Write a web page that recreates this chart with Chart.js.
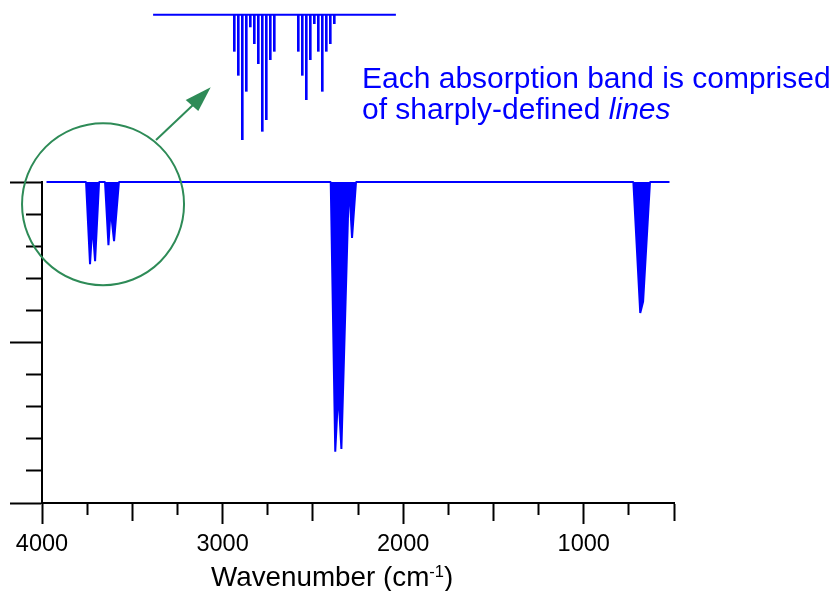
<!DOCTYPE html>
<html><head><meta charset="utf-8">
<script src="https://cdn.jsdelivr.net/npm/chart.js@4.4.1/dist/chart.umd.min.js"></script>
<style>
html,body{margin:0;padding:0;background:#fff;}
#wrap{position:relative;width:830px;height:591px;overflow:hidden;font-family:'Liberation Sans',Arial,sans-serif;}
#main{position:absolute;left:0;top:0;}
#inset{position:absolute;left:150px;top:0;}
.note{position:absolute;left:362px;top:61.6px;font-size:30px;line-height:31px;color:#0000ff;white-space:nowrap;}
.xtitle{position:absolute;left:211px;top:563px;font-size:27.8px;line-height:27px;color:#000;white-space:nowrap;}
.xtitle span{font-size:16.5px;position:relative;top:-9px;}
</style></head><body>
<div id="wrap">
<canvas id="main" width="830" height="591"></canvas>
<canvas id="inset" width="250" height="150"></canvas>
<div class="note">Each absorption band is comprised<br>of sharply-defined <i>lines</i></div>
<div class="xtitle">Wavenumber (cm<span>-1</span>)</div>
</div>
<script>
// ---- main spectrum (wavenumber in cm-1, transmittance 0..1) ----
const wavenumbers   = [3975, 3756, 3734, 3721, 3706, 3684, 3651, 3632, 3620, 3601, 3574, 2401, 2376, 2359, 2342, 2300, 2283, 2261, 725, 687, 671, 633, 525];
const transmittance = [1.0,  1.0,  0.744,0.869,0.753,1.0,  1.0,  0.803,0.916,0.816,1.0,  1.0,  0.160,0.350,0.168,1.0,  0.826,1.0,  1.0, 0.592,0.628,1.0, 1.0];
const xTickLabels = [4000, 3000, 2000, 1000];

// ---- inset: individual rotational lines (relative position, relative depth) ----
const insetLinePositions = [0, 1, 2, 3, 4, 5, 6, 7, 8, 9, 10, 16, 17, 18, 19, 20, 21, 22, 23, 24, 25];
const insetLineDepths    = [0.293, 0.485, 1.0, 0.613, 0.098, 0.232, 0.392, 0.933, 0.84, 0.36, 0.293,
                            0.293, 0.485, 0.68, 0.36, 0.072, 0.293, 0.613, 0.293, 0.232, 0.072];
const insetBaselineX = [-20.3, 40.4];

Chart.defaults.font.family = "'Liberation Sans', Arial, sans-serif";
Chart.defaults.color = '#000';

const BLUE = '#0000ff';
const GREEN = '#2e8b57';

const annotationPlugin = {
  id: 'zoomAnnotation',
  afterDraw(chart) {
    const {ctx, scales} = chart;
    const cx = scales.x.getPixelForValue(3662);
    const cy = scales.y.getPixelForValue(0.931);
    ctx.save();
    ctx.strokeStyle = GREEN;
    ctx.fillStyle = GREEN;
    ctx.lineWidth = 2;
    ctx.beginPath();
    ctx.arc(cx, cy, 81, 0, Math.PI * 2);
    ctx.stroke();
    // arrow
    ctx.beginPath();
    ctx.moveTo(156, 140);
    ctx.lineTo(193, 105);
    ctx.stroke();
    ctx.beginPath();
    ctx.moveTo(210.7, 87.3);
    ctx.lineTo(185.7, 100);
    ctx.lineTo(198.3, 111);
    ctx.closePath();
    ctx.fill();
    ctx.restore();
  }
};

const mainData = wavenumbers.map((w, i) => ({x: w, y: transmittance[i]}));

new Chart(document.getElementById('main'), {
  type: 'line',
  data: {
    datasets: [{
      data: mainData,
      borderColor: BLUE,
      backgroundColor: BLUE,
      borderWidth: 2,
      borderJoinStyle: 'bevel',
      pointRadius: 0,
      tension: 0,
      clip: 6,
      fill: {value: 1}
    }]
  },
  options: {
    responsive: false,
    devicePixelRatio: 1,
    animation: false,
    layout: {padding: {left: 10, top: 182, right: 156, bottom: 26.8}},
    plugins: {legend: {display: false}, tooltip: {enabled: false}},
    scales: {
      x: {
        type: 'linear',
        reverse: true,
        min: 500,
        max: 4000,
        border: {display: true, color: '#000', width: 2},
        grid: {
          drawOnChartArea: false,
          drawTicks: true,
          tickLength: 21,
          tickWidth: 2,
          tickColor: '#000',
          tickBorderDash: (ctx) => {
            const v = ctx.tick ? ctx.tick.value : 0;
            if (v % 1000 === 0) return [];
            if (v % 500 === 0) return [17, 40];
            return [11, 40];
          }
        },
        ticks: {
          stepSize: 250,
          autoSkip: false,
          maxRotation: 0,
          minRotation: 0,
          padding: 6,
          color: '#000',
          font: {size: 23.5},
          callback: (v) => xTickLabels.includes(v) ? String(v) : ''
        }
      },
      y: {
        type: 'linear',
        min: 0,
        max: 1,
        border: {display: true, color: '#000', width: 2},
        grid: {
          drawOnChartArea: false,
          drawTicks: true,
          tickLength: 32,
          tickWidth: 2,
          tickColor: '#000',
          tickBorderDash: (ctx) => {
            const v = ctx.tick ? ctx.tick.value : 0;
            const major = Math.abs(v * 2 - Math.round(v * 2)) < 1e-6;
            return major ? [] : [16, 40];
          },
          tickBorderDashOffset: (ctx) => {
            const v = ctx.tick ? ctx.tick.value : 0;
            const major = Math.abs(v * 2 - Math.round(v * 2)) < 1e-6;
            return major ? 0 : 40;
          }
        },
        ticks: {stepSize: 0.1, display: false}
      }
    }
  },
  plugins: [annotationPlugin]
});

new Chart(document.getElementById('inset'), {
  type: 'bar',
  data: {
    datasets: [
      {
        type: 'line',
        data: insetBaselineX.map(x => ({x, y: 0})),
        borderColor: BLUE,
        borderWidth: 2,
        pointRadius: 0,
        fill: false
      },
      {
        type: 'bar',
        data: insetLinePositions.map((p, i) => ({x: p, y: -insetLineDepths[i]})),
        backgroundColor: BLUE,
        borderWidth: 0,
        barThickness: 2
      }
    ]
  },
  options: {
    responsive: false,
    devicePixelRatio: 1,
    animation: false,
    layout: {padding: 0},
    plugins: {legend: {display: false}, tooltip: {enabled: false}},
    scales: {
      x: {type: 'linear', display: false, offset: false, min: -21.075, max: 41.425},
      y: {type: 'linear', display: false, min: -1.0824, max: 0.1176}
    }
  }
});
</script>
</body></html>
